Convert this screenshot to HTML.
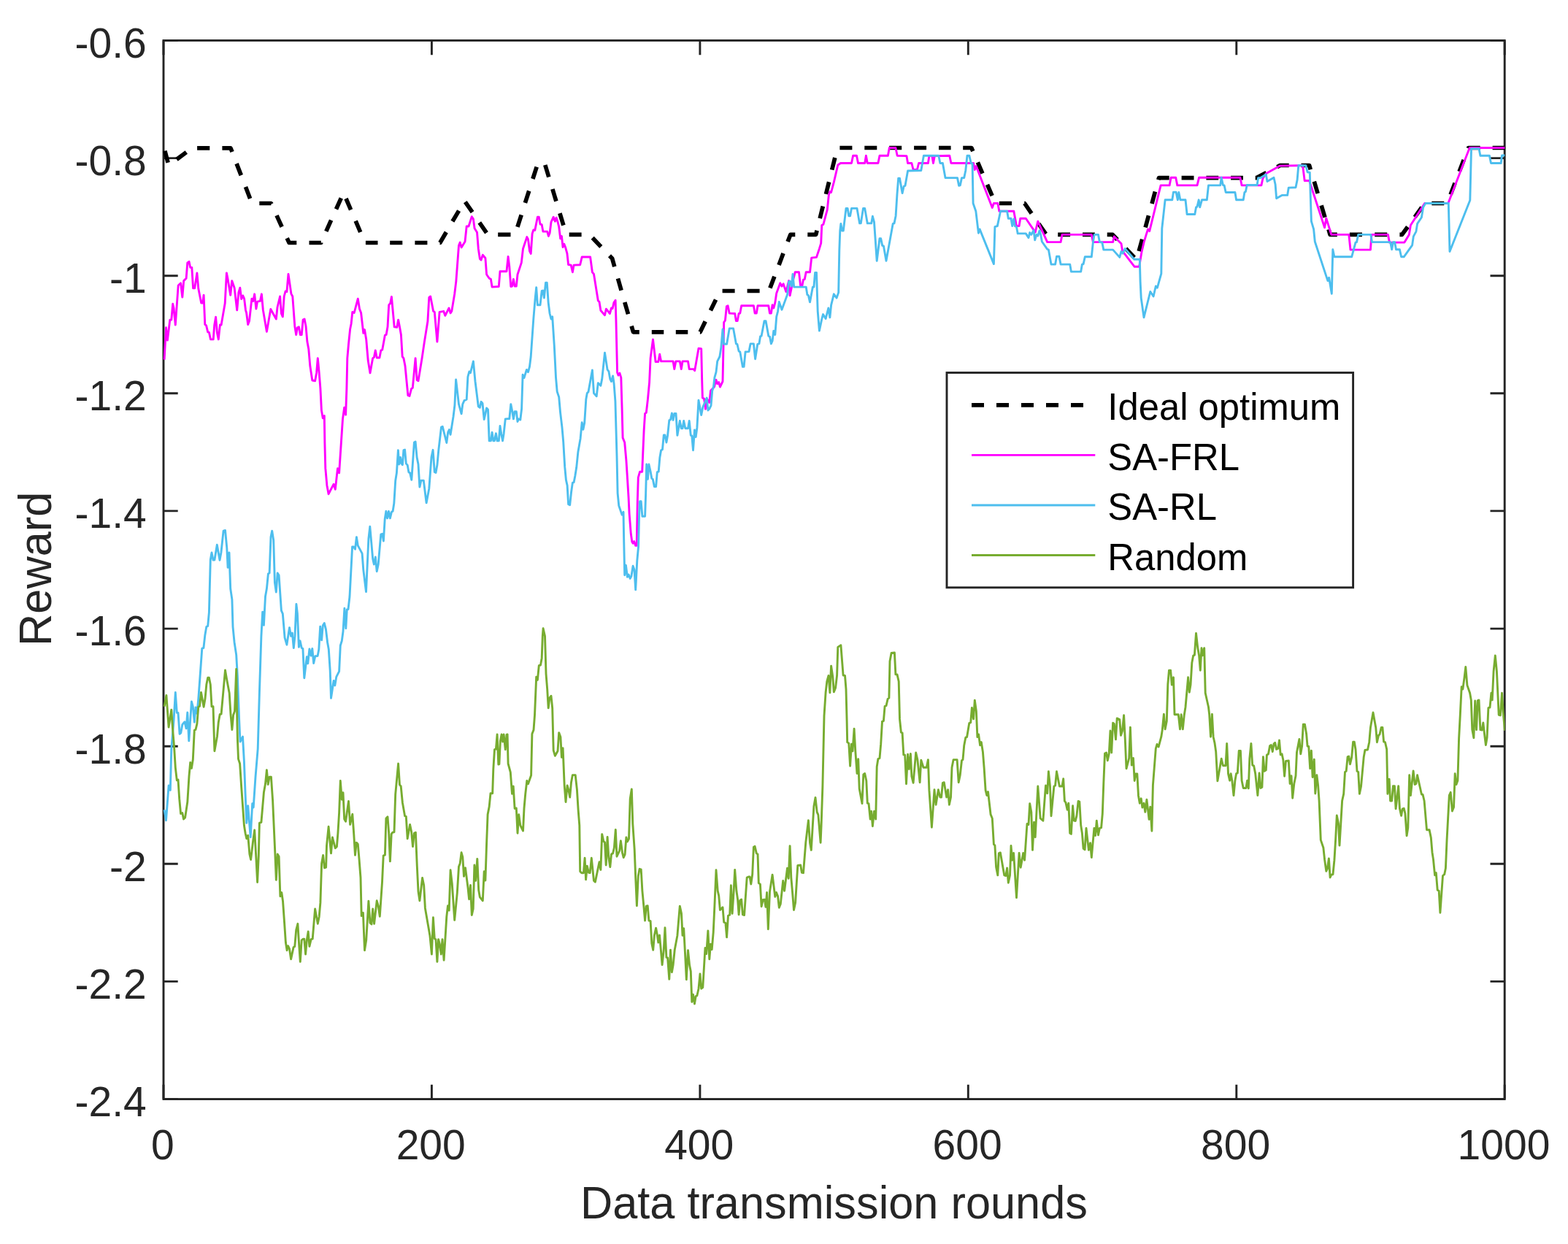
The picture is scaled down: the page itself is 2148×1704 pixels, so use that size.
<!DOCTYPE html>
<html lang="en"><head><meta charset="utf-8"><title>Reward vs data transmission rounds</title>
<style>
html,body{margin:0;padding:0;background:#fff;}
body{width:2148px;height:1704px;overflow:hidden;}
svg{display:block;}
text{font-family:"Liberation Sans",sans-serif;}
.tk{font-size:57.0px;fill:#262626;}
.lb{font-size:61.3px;fill:#262626;}
.lg{font-size:50.8px;fill:#000;}
.ax{stroke:#242424;stroke-width:2.9;fill:none;}
.ln{fill:none;stroke-width:2.9;stroke-linejoin:round;stroke-linecap:butt;}
</style></head><body>
<svg width="2148" height="1704" viewBox="0 0 2148 1704">
<rect x="0" y="0" width="2148" height="1704" fill="#ffffff"/>

<rect class="ax" x="224.0" y="55.45" width="1837.2" height="1450.1"/>
<path class="ax" d="M224.0 1505.55v-19.7M224.0 55.45v19.7M591.4 1505.55v-19.7M591.4 55.45v19.7M958.9 1505.55v-19.7M958.9 55.45v19.7M1326.3 1505.55v-19.7M1326.3 55.45v19.7M1693.8 1505.55v-19.7M1693.8 55.45v19.7M2061.2 1505.55v-19.7M2061.2 55.45v19.7M224.0 55.5h19.7M2061.2 55.5h-19.7M224.0 216.6h19.7M2061.2 216.6h-19.7M224.0 377.7h19.7M2061.2 377.7h-19.7M224.0 538.8h19.7M2061.2 538.8h-19.7M224.0 699.9h19.7M2061.2 699.9h-19.7M224.0 861.1h19.7M2061.2 861.1h-19.7M224.0 1022.2h19.7M2061.2 1022.2h-19.7M224.0 1183.3h19.7M2061.2 1183.3h-19.7M224.0 1344.4h19.7M2061.2 1344.4h-19.7M224.0 1505.5h19.7M2061.2 1505.5h-19.7"/>
<defs><clipPath id="pc"><rect x="222.5" y="55.45" width="1839.1" height="1450.1"/></clipPath></defs>
<g clip-path="url(#pc)">
<path fill="none" stroke="#000" stroke-width="5.7" stroke-linejoin="round" stroke-linecap="butt" d="M225.9 206.6L230.1 222.7M242.0 218.4L255.3 208.5M270.1 202.9L287.3 202.9M304.4 202.9L316.0 202.9L318.0 208.1M324.1 224.1L330.3 240.1M336.5 256.1L342.6 272.1M355.3 278.5L371.4 278.5L371.9 279.5M379.0 295.1L386.1 310.7M393.2 326.3L396.1 332.5L406.3 332.5M423.5 332.5L439.8 332.5L439.9 332.1M446.8 316.9L453.6 301.7M460.5 286.5L467.3 271.3M474.0 272.0L480.6 287.3M487.2 302.6L493.7 318.0M500.9 332.5L517.5 332.5M534.2 332.5L551.3 332.5M568.4 332.5L585.4 332.5M602.5 332.5L602.8 332.5L611.3 318.0M619.9 303.3L628.6 288.6M637.3 276.7L647.1 290.7M656.8 304.8L666.5 318.8M682.2 321.4L699.5 321.4M708.9 310.8L714.2 294.3M719.4 277.9L724.7 261.5M729.9 245.0L735.2 228.6M746.8 226.0L751.8 242.5M756.9 259.0L761.9 275.6M766.9 292.1L771.9 308.6M779.7 321.4L796.6 321.4M811.7 325.7L823.3 338.0M835.0 350.2L838.6 353.9L841.8 365.2M846.5 381.5L851.1 397.8M855.8 414.0L860.5 430.3M865.1 446.6L867.5 454.8L875.8 454.8M892.8 454.8L909.3 454.8M925.8 454.8L942.3 454.8M958.9 454.8L959.2 454.8L966.2 440.2M973.4 425.3L980.6 410.5M989.6 398.5L1006.6 398.5M1023.6 398.5L1040.6 398.5M1054.9 394.6L1060.9 378.7M1067.0 362.9L1073.0 347.0M1079.1 331.1L1082.8 321.4L1089.3 321.4M1106.3 321.4L1117.7 321.4L1119.1 315.8M1123.2 299.1L1127.3 282.5M1131.5 265.9L1135.6 249.2M1139.7 232.6L1143.8 216.0M1150.4 202.5L1167.4 202.5M1184.3 202.5L1201.3 202.5M1218.2 202.5L1235.2 202.5M1252.1 202.5L1269.1 202.5M1286.0 202.5L1302.6 202.5M1319.2 202.5L1330.8 202.5L1332.8 207.1M1339.4 222.4L1345.9 237.7M1352.5 252.9L1359.1 268.2M1368.9 278.5L1386.0 278.5M1403.2 278.5L1403.6 278.5L1413.1 292.3M1422.8 306.4L1432.6 320.5M1449.2 321.4L1466.1 321.4M1483.0 321.4L1499.8 321.4M1516.7 321.4L1524.2 321.4L1530.7 328.2M1542.3 340.5L1553.9 352.8M1560.2 344.1L1564.7 327.8M1569.1 311.5L1573.5 295.2M1578.0 278.9L1582.4 262.6M1586.8 246.3L1587.6 243.6L1601.7 243.6M1618.6 243.6L1635.5 243.6M1652.4 243.6L1669.2 243.6M1686.1 243.6L1702.9 243.6M1719.7 243.6L1721.4 243.6L1734.7 236.6M1749.5 228.7L1753.6 226.5L1765.7 226.5M1782.5 226.5L1793.6 226.5L1795.3 232.2M1800.3 248.6L1805.2 265.0M1810.1 281.4L1815.0 297.8M1820.0 314.2L1822.1 321.4L1831.8 321.4M1848.9 321.4L1866.0 321.4M1883.2 321.4L1900.3 321.4M1917.4 321.4L1920.6 321.4L1928.4 310.7M1938.1 297.3L1947.7 284.0M1961.3 278.5L1978.3 278.5M1987.1 266.6L1993.1 250.8M1999.1 234.9L2005.2 219.0M2011.2 203.2L2011.5 202.5L2027.7 202.5M2044.6 202.5L2061.4 202.5"/>
<polyline class="ln" stroke="#ff00ff" points="225.1,492.7 227.5,448.8 229.4,466.0 232.8,438.1 234.8,438.1 236.7,416.3 238.0,422.0 240.3,445.0 244.2,391.0 247.6,387.8 249.8,407.1 251.7,384.6 255.1,381.3 256.8,359.9 259.0,358.4 260.7,366.4 262.8,366.4 264.6,394.8 266.7,394.8 269.9,373.9 271.8,395.3 275.7,415.0 277.6,415.0 279.1,404.3 280.8,444.5 282.5,445.6 284.7,454.8 286.4,455.2 288.5,464.9 292.2,464.9 293.7,445.6 295.6,434.3 297.5,456.3 299.3,464.9 301.4,445.0 303.1,445.0 308.2,415.6 310.4,373.9 311.9,381.3 315.7,404.3 317.7,384.6 321.1,394.2 324.7,424.8 326.9,400.6 328.8,394.2 330.7,409.6 332.7,404.9 334.6,409.2 336.5,424.8 337.6,428.5 339.7,444.5 341.5,439.8 344.9,409.2 346.8,412.4 348.7,402.8 350.9,423.1 352.6,413.1 356.4,412.4 358.4,402.8 360.3,424.2 365.4,454.2 370.8,423.5 378.3,437.0 380.0,421.0 383.6,406.0 385.4,429.5 387.3,433.8 389.2,406.0 391.1,398.9 392.9,399.6 395.0,375.4 398.9,402.3 400.8,406.0 403.8,446.7 405.7,458.5 407.4,448.8 409.4,447.8 411.3,458.5 413.2,458.5 415.1,438.1 417.1,437.0 419.0,446.7 420.9,468.1 422.8,478.2 424.8,501.3 427.8,521.0 431.6,521.7 433.6,510.9 435.3,490.6 437.2,510.9 438.9,532.1 440.4,562.1 442.3,572.8 444.3,569.6 444.9,607.1 445.8,641.4 447.9,664.9 450.1,676.7 457.1,663.2 459.3,670.3 462.5,641.8 464.6,647.8 469.5,573.9 471.7,558.3 473.6,568.1 474.9,532.1 475.8,490.6 477.5,471.3 479.6,451.0 481.1,443.5 482.8,427.4 485.2,428.5 490.3,409.2 492.5,423.1 494.6,428.5 497.8,456.3 499.5,451.6 501.7,464.9 504.2,493.8 507.0,510.9 510.7,490.6 512.4,489.5 514.3,479.9 516.2,490.0 519.9,490.0 521.8,479.9 523.7,479.2 527.4,459.1 529.1,458.5 531.0,447.8 532.7,417.8 534.7,415.6 536.4,406.4 540.2,447.8 543.9,448.2 545.6,438.1 547.5,447.8 549.4,458.5 551.2,488.5 552.9,490.6 555.0,501.3 558.9,541.6 561.0,542.4 563.6,532.4 565.3,531.3 569.1,490.6 571.1,520.6 573.0,521.7 578.1,490.6 581.4,468.1 585.9,440.3 587.8,407.5 589.7,406.0 593.6,426.3 595.3,427.4 598.9,468.1 602.1,427.4 607.7,426.3 609.8,432.3 615.0,422.0 617.1,428.9 618.8,426.3 622.7,402.8 624.8,385.6 628.5,336.4 630.2,332.1 632.1,338.9 637.0,331.0 639.2,310.0 642.0,310.0 646.3,296.7 648.4,300.0 650.1,312.8 653.5,318.2 655.3,340.7 657.4,354.6 659.1,356.1 661.3,349.2 664.9,353.5 666.6,376.0 670.2,381.3 672.4,382.4 674.1,393.1 683.3,392.5 685.0,371.7 694.0,371.7 696.1,351.4 697.8,365.3 699.8,392.5 701.5,392.1 703.4,382.4 705.1,392.1 707.3,392.1 709.0,376.0 714.3,359.9 716.5,340.7 721.8,324.6 723.5,327.8 725.5,343.9 727.2,347.5 729.1,320.3 730.8,314.9 732.8,315.4 736.4,297.2 738.3,297.2 740.0,307.0 742.2,307.7 743.9,317.1 749.7,317.1 751.4,323.5 753.1,319.2 755.0,304.2 758.2,297.2 760.4,303.2 762.1,298.2 764.0,303.8 765.7,310.7 767.7,326.7 769.4,323.5 771.1,338.5 772.8,334.2 774.5,338.5 776.9,347.1 778.6,362.5 782.2,363.1 784.4,372.8 786.1,363.1 794.7,362.7 797.2,352.0 808.6,352.0 811.4,372.8 813.5,375.4 819.3,411.8 821.0,413.5 822.9,425.3 828.5,431.7 830.4,423.1 835.4,429.5 837.5,422.0 839.2,422.5 840.9,414.6 843.1,411.3 843.9,437.0 845.6,510.3 847.1,514.1 848.9,511.1 850.8,517.1 852.1,560.0 853.1,599.6 855.7,606.0 857.9,630.7 859.4,654.2 861.1,682.1 862.1,703.5 864.3,731.3 865.8,742.0 867.1,744.2 868.6,741.6 870.7,747.4 872.2,747.4 873.3,686.4 874.3,654.2 876.5,646.3 879.7,646.3 880.8,620.0 882.1,590.0 883.6,566.4 885.3,565.3 887.4,547.1 889.6,523.6 891.1,490.6 894.5,464.9 898.1,495.5 901.8,495.5 903.7,485.2 905.6,494.9 922.1,494.9 923.8,505.6 925.8,494.9 931.3,494.9 933.3,505.6 935.0,494.9 942.5,494.9 944.2,505.6 950.0,505.6 951.7,507.7 957.0,477.3 960.7,477.7 961.7,521.4 962.4,545.0 964.5,546.1 966.5,560.4 968.2,546.1 971.8,551.4 973.5,535.3 978.4,530.0 981.0,520.3 982.7,525.7 984.7,523.6 986.4,530.0 990.0,522.5 991.7,441.3 993.4,439.2 995.4,419.5 997.1,418.8 999.2,429.1 1006.7,429.5 1008.4,439.6 1010.2,439.6 1012.1,429.5 1013.8,429.1 1015.7,418.8 1032.4,418.8 1034.1,429.1 1036.3,429.1 1038.0,418.8 1052.8,418.8 1054.5,429.1 1056.4,429.1 1058.1,417.8 1059.8,422.0 1061.8,414.6 1063.7,401.7 1068.8,387.8 1071.0,392.1 1073.1,388.8 1076.8,399.6 1080.6,384.6 1082.1,404.9 1084.3,394.2 1086.0,385.6 1089.2,372.8 1094.5,372.8 1096.7,392.1 1098.8,392.1 1100.5,383.1 1102.3,382.4 1104.2,372.8 1109.5,372.8 1111.7,353.1 1118.5,352.4 1122.4,340.7 1124.7,333.1 1125.8,308.5 1127.9,307.4 1133.3,287.1 1135.4,266.7 1136.9,262.5 1138.6,263.5 1142.3,249.6 1147.8,226.0 1151.5,223.5 1166.5,223.5 1168.6,213.2 1173.5,213.2 1175.5,223.5 1184.7,223.5 1186.4,213.2 1188.3,223.5 1202.9,223.5 1205.0,213.2 1216.4,213.2 1218.3,202.5 1226.9,202.5 1229.2,213.2 1241.9,213.6 1243.6,223.5 1248.9,223.5 1251.1,232.5 1256.4,232.5 1258.6,223.5 1271.4,223.5 1272.9,213.6 1276.8,213.6 1278.5,223.5 1280.4,213.6 1300.8,213.2 1302.9,223.5 1333.6,223.5 1335.3,232.5 1337.2,227.5 1359.3,284.5 1361.4,278.5 1366.8,278.5 1368.9,289.2 1388.8,289.2 1392.5,309.6 1396.1,309.6 1397.8,299.3 1405.3,299.3 1418.2,318.1 1421.8,303.2 1434.7,331.6 1453.1,331.6 1455.0,321.4 1495.3,321.4 1497.4,331.6 1524.6,331.6 1526.3,323.9 1536.0,333.8 1537.7,343.9 1554.2,365.3 1560.6,365.3 1563.8,346.0 1567.0,332.1 1570.2,321.4 1572.6,313.9 1574.7,316.6 1590.1,253.9 1602.1,253.9 1604.1,243.2 1610.7,243.2 1612.8,253.9 1640.0,253.9 1642.6,243.2 1698.9,243.2 1701.1,253.9 1727.9,253.9 1730.0,244.2 1734.3,237.8 1753.6,227.1 1784.6,226.7 1787.2,247.5 1793.6,247.5 1814.6,311.7 1816.8,298.9 1823.8,321.4 1847.8,321.4 1850.0,342.1 1877.4,342.1 1878.9,321.4 1901.4,321.4 1903.5,332.1 1923.9,332.1 1930.3,321.4 1932.4,308.5 1951.7,278.5 1983.8,278.5 2013.2,202.5 2061.4,202.5"/>
<polyline class="ln" stroke="#4dbeee" points="225.1,1109.2 227.5,1123.7 229.4,1098.5 231.1,1076.0 233.3,1082.4 234.8,1025.6 238.0,987.1 240.3,948.5 242.3,976.4 244.0,976.4 246.1,1005.3 247.8,1003.8 249.8,992.4 253.0,988.8 255.1,997.8 256.8,975.9 258.8,1014.9 262.4,960.9 264.3,967.8 266.3,989.2 268.0,968.9 269.9,977.4 271.8,957.1 274.0,927.1 276.8,888.1 278.9,887.5 280.8,870.3 282.8,858.6 284.7,857.5 286.4,838.8 288.3,766.7 290.0,757.0 292.0,767.1 293.9,767.1 297.3,746.3 301.0,767.3 302.9,757.0 306.1,727.1 308.5,726.4 310.8,750.6 312.1,777.4 314.0,757.0 315.7,806.3 317.9,821.3 319.0,858.6 321.1,880.0 323.7,897.1 325.4,927.1 327.5,982.8 329.0,1016.0 332.5,1009.1 334.4,1042.8 336.1,1087.8 337.8,1127.4 339.7,1103.8 343.2,1146.7 345.7,1100.6 347.2,1106.0 350.0,1064.2 353.2,1025.6 355.4,948.5 357.9,871.4 359.7,838.2 361.4,856.4 363.5,817.0 365.4,806.3 367.4,786.0 369.1,784.9 371.0,735.6 372.7,727.1 374.7,739.9 376.4,797.7 378.3,811.0 380.2,784.9 382.1,788.1 385.4,836.3 387.3,840.6 390.1,873.6 392.9,883.2 396.5,859.6 398.6,871.4 400.4,867.1 402.3,887.5 404.0,871.4 405.9,827.5 407.4,840.3 409.4,886.4 411.1,877.8 413.2,887.5 414.9,888.5 416.8,928.8 420.3,899.7 421.8,908.9 423.9,889.0 426.1,898.2 427.8,888.5 429.7,908.5 431.8,898.8 435.1,898.6 436.8,889.6 438.7,858.1 440.6,876.8 442.3,856.8 444.3,853.6 446.4,861.8 448.6,880.0 450.3,889.6 452.2,918.5 453.5,956.4 457.1,932.5 458.8,938.9 460.8,927.1 464.6,919.6 466.3,884.3 468.3,877.8 470.0,865.0 471.9,833.3 473.8,860.7 475.3,835.0 477.0,834.6 479.0,817.0 482.6,748.9 484.5,748.9 486.5,752.3 488.4,735.6 490.3,747.4 496.1,758.1 497.8,780.6 501.5,810.6 504.9,737.8 506.8,721.3 510.7,765.6 512.4,773.1 514.3,763.0 516.2,782.7 518.2,773.1 521.8,731.8 523.7,731.3 525.4,741.0 527.2,711.0 528.9,700.3 530.6,709.9 532.5,700.3 534.4,709.9 536.4,701.3 538.1,700.3 539.8,689.6 541.7,658.5 543.4,647.8 545.4,616.7 546.7,636.0 548.6,626.4 549.9,634.9 551.4,636.7 552.9,616.7 554.6,616.1 556.3,634.9 558.2,637.1 559.9,646.7 561.6,647.8 563.8,657.4 567.4,606.0 569.1,605.0 571.1,626.4 573.0,636.0 574.9,667.1 576.9,658.1 580.3,658.1 584.1,688.9 587.8,669.2 591.0,626.4 593.1,616.3 595.3,646.7 597.0,647.4 598.9,637.1 600.8,616.7 604.5,585.0 606.2,584.2 611.8,606.5 613.7,592.1 615.4,588.5 617.1,595.3 621.0,570.7 622.9,555.3 624.6,519.9 628.5,553.6 632.1,566.8 633.8,553.6 636.0,548.6 639.2,547.1 640.9,516.1 642.8,509.0 644.5,510.7 648.4,494.9 651.0,522.5 655.3,556.8 657.4,558.3 659.1,550.3 661.0,552.5 663.2,574.5 666.6,558.9 668.5,561.0 670.2,603.9 672.4,603.9 674.1,592.1 675.8,603.9 677.3,603.9 679.4,593.6 681.1,603.9 683.3,603.9 685.0,583.5 686.7,594.2 688.6,603.9 690.1,594.2 692.3,573.9 697.8,573.5 699.8,553.6 701.7,563.2 703.4,573.9 705.1,563.6 707.3,563.6 709.0,577.5 710.7,573.9 712.8,575.0 714.6,560.0 716.1,513.3 718.0,517.6 721.4,506.4 723.5,509.6 725.5,502.1 727.2,488.5 730.8,437.0 733.0,410.3 734.7,393.6 736.4,417.8 740.0,417.8 742.2,398.5 743.7,398.1 745.4,408.1 747.5,387.3 749.3,387.3 751.2,414.6 753.1,429.5 755.0,437.0 756.7,433.8 759.3,473.5 761.5,517.1 763.2,536.4 765.7,543.9 767.5,564.3 770.0,585.7 771.7,605.0 773.7,639.2 775.4,657.4 777.1,664.9 778.6,690.6 780.7,691.7 782.5,674.6 784.4,661.1 786.1,660.7 787.8,652.1 789.7,640.3 791.9,618.9 795.1,600.7 797.2,578.8 798.9,588.3 800.7,579.3 802.8,547.1 804.3,538.6 806.0,536.8 811.4,506.9 813.5,538.6 817.2,542.8 819.3,524.6 822.9,528.3 824.7,519.3 828.5,483.1 832.1,506.4 833.9,508.6 835.8,519.3 837.5,522.5 839.6,515.0 841.1,525.7 842.9,549.3 845.0,624.2 846.1,675.6 847.8,692.8 852.1,705.2 854.0,701.3 854.6,735.6 855.7,787.7 857.4,774.2 859.4,790.2 861.1,787.0 863.2,792.4 864.9,789.2 867.1,775.2 869.0,780.6 870.7,807.8 872.8,767.8 874.6,748.5 875.6,705.6 876.5,686.8 878.2,686.8 879.9,707.3 883.6,707.3 884.6,677.8 885.7,636.0 887.4,656.4 888.9,636.0 891.1,645.7 892.8,655.3 894.3,656.4 896.4,666.6 898.6,666.6 900.3,646.7 902.2,646.1 903.9,626.4 905.6,616.7 907.5,615.7 909.3,596.0 911.0,596.0 912.9,606.0 914.6,596.4 916.8,575.6 918.5,575.0 920.4,566.0 922.1,575.4 923.8,566.4 926.0,566.4 927.9,596.4 931.3,576.5 933.3,586.8 935.0,586.8 936.7,576.5 938.8,586.8 942.5,586.8 944.2,576.5 946.3,596.4 947.8,596.8 949.5,616.7 951.5,588.9 953.2,598.5 954.9,585.7 957.0,548.2 960.7,568.5 962.8,557.8 968.2,545.0 969.9,562.1 971.8,560.0 974.0,555.7 975.7,535.3 977.4,530.0 978.9,517.1 981.0,509.6 982.7,494.9 985.9,488.5 987.9,475.6 990.0,451.0 991.7,471.3 995.6,471.3 999.2,449.9 1004.6,449.9 1008.4,470.9 1009.9,471.3 1012.1,481.0 1013.8,482.0 1017.4,502.4 1019.1,502.4 1021.1,482.0 1026.0,481.6 1028.1,470.9 1032.4,470.9 1034.6,491.7 1037.8,471.3 1039.9,470.9 1041.6,460.6 1043.1,460.2 1047.0,439.8 1049.1,439.8 1052.8,460.2 1054.5,461.0 1056.4,470.9 1058.1,467.0 1059.8,453.1 1061.8,458.5 1063.7,433.8 1065.6,426.3 1067.3,413.5 1071.0,424.2 1078.5,403.8 1080.6,385.6 1082.1,385.2 1084.3,392.1 1086.0,375.4 1087.7,393.1 1104.2,393.1 1105.9,403.8 1107.4,404.5 1109.5,413.9 1113.4,393.1 1114.9,393.1 1116.6,373.4 1118.5,373.4 1120.2,426.3 1122.4,453.1 1125.8,437.0 1127.5,430.6 1131.1,436.6 1134.8,422.0 1136.9,434.9 1138.6,417.8 1142.3,402.8 1146.1,408.1 1148.7,400.6 1149.8,342.8 1150.8,316.0 1151.9,306.4 1153.6,316.0 1155.3,316.0 1159.0,285.4 1161.1,285.4 1162.8,295.7 1164.6,295.7 1166.5,285.4 1174.0,285.4 1177.6,305.9 1179.3,305.9 1182.5,285.4 1184.7,285.4 1188.3,305.9 1193.7,305.9 1195.4,296.3 1197.5,304.2 1201.2,357.3 1205.0,326.7 1206.7,326.7 1208.7,336.4 1210.4,336.8 1214.0,357.3 1223.2,306.4 1225.0,305.9 1227.1,295.7 1229.0,265.7 1230.7,244.2 1232.5,244.2 1236.1,264.6 1238.2,255.0 1240.0,254.3 1243.6,234.0 1261.8,233.5 1265.4,213.2 1285.8,213.2 1287.9,223.5 1291.4,223.5 1295.0,243.6 1311.5,243.6 1313.6,254.3 1315.3,253.9 1317.5,243.6 1320.7,243.6 1322.8,233.5 1325.0,213.2 1327.8,213.2 1330.3,223.9 1332.1,223.9 1333.1,278.5 1336.8,289.2 1340.4,319.2 1342.1,313.9 1361.4,361.6 1362.9,310.7 1366.3,309.6 1370.6,289.2 1379.6,289.2 1381.3,299.3 1385.0,299.3 1386.7,309.6 1388.8,299.9 1390.3,309.6 1392.5,310.7 1394.2,319.9 1405.3,319.9 1409.0,325.6 1410.7,318.6 1412.8,321.4 1416.0,315.4 1417.7,328.9 1419.9,321.4 1421.8,323.1 1424.0,316.0 1425.7,321.4 1427.4,331.0 1434.7,341.3 1436.4,342.1 1440.0,362.1 1445.6,362.1 1447.5,351.3 1450.9,351.3 1453.1,362.1 1465.7,362.1 1467.4,372.1 1480.7,372.1 1482.4,362.1 1484.1,361.6 1486.3,351.8 1495.3,351.8 1497.4,331.6 1499.1,321.4 1504.5,321.4 1506.4,331.6 1509.8,332.1 1511.8,342.1 1524.6,342.1 1533.8,352.4 1536.0,344.5 1538.1,347.1 1541.3,340.6 1553.8,355.2 1561.3,355.2 1562.1,385.6 1563.2,408.1 1567.0,434.9 1575.8,399.5 1580.1,406.0 1583.3,392.0 1585.4,394.2 1590.8,374.9 1591.8,312.8 1596.1,273.8 1605.8,273.8 1607.5,263.1 1611.1,263.1 1613.3,273.8 1614.8,263.5 1616.9,273.8 1624.0,273.8 1626.1,293.5 1636.8,293.5 1638.5,283.9 1640.0,283.2 1642.2,273.8 1643.7,283.9 1646.5,273.8 1653.3,273.8 1655.5,253.9 1671.7,253.9 1673.2,243.2 1675.4,253.5 1677.1,253.9 1679.2,263.5 1691.9,263.5 1693.6,273.8 1703.2,273.8 1704.9,263.5 1706.4,262.5 1708.2,253.5 1722.1,253.5 1723.6,243.6 1726.8,243.6 1734.3,238.9 1736.0,248.5 1745.0,243.2 1747.1,252.8 1748.6,271.7 1756.1,267.4 1763.6,267.4 1765.3,257.1 1775.0,256.7 1777.1,246.4 1778.8,226.7 1788.9,226.7 1791.1,235.7 1794.3,236.3 1795.3,270.0 1796.4,303.2 1799.6,313.9 1801.3,331.0 1818.9,384.6 1820.6,380.3 1824.3,402.3 1825.8,341.7 1827.9,351.8 1851.7,351.8 1857.0,332.1 1858.5,331.6 1860.7,321.4 1877.8,321.4 1879.5,331.6 1904.6,331.6 1906.7,341.7 1908.4,331.6 1910.6,331.6 1912.5,341.7 1917.4,341.7 1919.6,351.8 1923.2,351.8 1934.6,335.9 1936.3,323.9 1939.9,317.1 1941.6,306.4 1947.4,297.8 1949.6,283.9 1952.8,278.5 1984.3,278.5 1986.0,344.5 2013.8,274.2 2015.5,203.6 2026.0,203.6 2027.9,213.2 2040.4,213.2 2042.5,223.5 2056.2,223.5 2057.5,213.0 2061.4,212.8"/>
<polyline class="ln" stroke="#77ac30" points="225.1,967.8 227.9,952.4 231.1,996.1 234.8,972.1 236.5,997.8 238.6,1023.5 240.3,1051.3 242.3,1068.9 244.0,1068.0 245.7,1094.2 247.6,1114.5 249.8,1113.5 251.5,1122.0 253.6,1119.9 256.8,1098.5 259.0,1063.1 260.7,1044.5 262.4,1052.4 264.3,1040.6 266.3,1000.4 268.0,999.5 269.9,991.4 271.8,968.2 273.5,967.4 275.5,948.5 279.1,968.2 281.0,957.1 282.8,937.8 284.7,928.2 286.4,928.2 288.3,937.8 290.0,967.8 292.0,967.8 293.9,1028.8 297.5,1008.5 299.3,989.2 301.2,978.5 303.1,978.1 305.0,957.1 308.5,917.9 310.4,929.2 314.2,949.6 316.0,978.5 317.9,999.5 319.6,979.6 321.5,974.2 323.7,916.4 324.5,969.9 325.4,1012.8 326.5,1039.6 328.6,1046.0 330.7,1078.1 332.9,1109.2 334.4,1130.6 336.1,1141.3 337.8,1148.8 339.7,1144.3 341.9,1170.0 343.6,1177.5 346.8,1150.7 348.7,1137.0 350.7,1172.1 352.6,1208.5 354.3,1172.1 355.4,1127.4 357.9,1126.3 361.4,1085.6 363.5,1073.8 365.4,1054.6 367.2,1074.5 369.1,1064.2 371.4,1064.2 373.6,1096.3 376.8,1167.8 378.3,1205.3 380.2,1170.0 382.1,1173.2 383.9,1227.8 385.8,1222.5 387.5,1234.2 389.6,1264.2 391.4,1291.0 393.1,1301.7 394.6,1295.7 396.5,1299.6 398.6,1313.9 402.1,1297.4 403.8,1296.4 405.7,1273.9 407.9,1265.3 409.4,1289.9 411.3,1317.4 413.2,1287.8 415.3,1286.1 416.8,1286.1 418.6,1307.1 420.3,1287.8 422.2,1276.0 423.9,1296.4 426.1,1286.7 428.2,1286.1 431.6,1245.0 435.3,1265.3 437.2,1255.7 438.9,1236.4 440.6,1182.8 442.6,1171.5 444.5,1188.8 446.6,1188.2 447.5,1158.4 450.1,1132.3 453.5,1168.9 455.4,1146.9 459.3,1161.8 461.4,1159.7 462.9,1141.3 464.6,1113.5 466.3,1069.5 468.3,1095.2 470.0,1085.6 471.7,1122.0 473.6,1125.2 475.8,1109.2 477.5,1097.4 479.6,1129.5 482.8,1115.2 484.8,1143.4 486.5,1171.3 488.2,1154.1 490.3,1156.3 492.0,1176.4 494.0,1202.1 495.2,1254.6 497.4,1250.3 499.5,1301.7 501.7,1287.8 504.9,1234.2 507.0,1264.2 509.0,1266.0 510.7,1245.0 512.6,1265.3 516.2,1233.8 518.2,1240.7 520.3,1255.2 523.5,1208.5 525.2,1172.1 527.4,1171.1 528.9,1121.0 531.0,1118.8 532.7,1141.3 534.4,1179.9 536.2,1142.4 537.9,1140.2 540.0,1139.8 541.7,1087.8 545.6,1046.0 547.5,1074.9 549.2,1077.0 551.4,1099.5 554.6,1117.7 556.3,1118.4 558.2,1148.8 561.6,1129.5 563.6,1139.2 565.5,1159.5 567.4,1141.3 569.4,1140.2 571.3,1186.1 573.0,1221.0 574.9,1233.8 578.6,1202.5 580.7,1212.8 582.4,1243.9 585.9,1264.2 588.9,1281.4 591.4,1307.1 593.4,1256.7 595.3,1285.7 597.0,1286.7 598.9,1317.4 600.6,1286.7 602.3,1293.2 604.3,1307.1 606.0,1286.7 608.1,1315.2 609.8,1287.8 611.8,1255.7 613.5,1240.7 615.2,1247.1 617.1,1191.8 619.3,1210.7 622.7,1260.4 626.3,1223.1 628.5,1187.1 630.2,1182.8 632.1,1167.8 633.8,1173.8 635.5,1200.4 637.5,1188.8 640.9,1215.0 642.6,1231.7 644.5,1212.4 646.3,1253.5 648.2,1245.0 649.9,1185.0 651.6,1206.4 653.8,1176.4 655.7,1219.3 657.4,1228.9 661.3,1233.8 663.2,1193.6 664.9,1206.0 666.6,1155.0 668.1,1115.6 670.2,1104.9 672.0,1086.7 674.7,1086.7 675.8,1053.5 677.5,1026.7 679.4,1026.1 681.1,1005.9 682.8,1047.1 683.9,1046.6 685.4,1014.9 687.1,1005.9 688.6,1016.0 690.1,1005.9 692.3,1026.7 694.0,1006.4 695.1,1005.9 696.1,1046.0 699.3,1057.8 701.5,1087.3 703.2,1077.0 705.1,1107.5 707.3,1107.0 709.0,1141.3 710.7,1115.6 712.8,1130.6 716.5,1138.1 718.0,1107.0 719.7,1087.8 721.8,1069.5 723.5,1073.8 727.6,1062.0 728.9,1005.3 731.0,999.9 732.5,979.6 734.7,927.1 736.4,931.4 738.3,911.7 740.5,911.0 742.2,901.4 743.3,871.4 744.1,860.7 746.5,871.4 748.0,922.8 749.7,944.2 751.2,969.9 752.9,956.0 755.0,953.2 756.7,969.9 758.2,1027.8 760.4,1035.3 764.0,1028.8 765.7,1003.6 767.9,1009.6 769.4,1037.4 771.1,1024.6 773.2,1076.0 775.0,1098.5 777.1,1076.0 779.0,1082.4 780.7,1092.0 782.5,1071.7 784.4,1061.6 788.2,1061.6 790.4,1081.3 792.1,1109.2 793.8,1130.6 794.7,1193.6 796.8,1195.7 799.4,1195.7 801.1,1175.3 802.6,1204.9 804.3,1186.1 806.4,1195.3 808.2,1195.7 810.3,1175.3 813.5,1206.4 815.4,1208.1 821.0,1180.7 822.9,1191.4 824.7,1142.6 826.8,1152.4 828.5,1153.9 830.2,1185.0 832.1,1146.4 833.9,1175.3 835.8,1187.6 837.5,1170.0 839.6,1168.9 841.4,1161.0 843.3,1136.4 845.0,1173.2 848.6,1165.3 850.4,1151.8 852.5,1167.8 854.2,1174.7 856.1,1170.4 857.9,1146.9 859.4,1152.9 861.5,1149.0 863.2,1094.2 865.3,1080.9 866.8,1128.5 869.2,1163.6 870.7,1202.1 872.4,1240.7 874.3,1200.0 876.1,1190.3 878.2,1190.8 879.9,1220.3 881.8,1240.7 883.6,1261.0 885.3,1241.1 887.2,1240.7 888.9,1261.0 891.1,1261.7 892.8,1292.1 894.7,1301.3 896.4,1281.4 898.6,1271.1 900.3,1280.3 901.8,1291.0 903.5,1280.9 905.4,1301.7 907.1,1321.6 909.3,1301.1 911.0,1270.7 912.9,1311.4 914.6,1311.8 916.8,1341.3 918.5,1301.1 920.4,1331.7 922.1,1322.1 924.3,1300.7 927.9,1281.4 931.3,1241.1 933.5,1251.4 935.0,1281.4 936.7,1271.7 938.8,1311.4 940.3,1341.8 942.5,1301.7 944.6,1322.1 946.3,1330.6 947.8,1372.4 949.5,1362.3 951.5,1375.0 953.2,1364.5 954.9,1363.8 957.0,1354.2 959.0,1333.9 960.7,1354.2 962.8,1352.5 966.0,1298.5 967.7,1306.6 969.9,1274.9 971.8,1313.9 973.5,1293.2 975.2,1300.7 977.2,1277.1 978.9,1240.7 981.0,1191.8 983.2,1220.3 984.7,1226.8 986.4,1246.5 990.0,1242.8 991.7,1263.2 993.9,1264.2 995.6,1283.9 997.5,1254.2 999.7,1253.1 1001.4,1212.8 1003.1,1251.4 1005.0,1223.5 1006.7,1191.4 1008.9,1220.3 1010.6,1232.1 1012.1,1252.9 1013.8,1233.2 1015.7,1232.1 1017.4,1252.9 1019.6,1253.5 1023.2,1202.1 1025.4,1201.0 1027.1,1201.0 1028.8,1211.1 1030.7,1197.8 1032.4,1160.3 1034.1,1159.3 1036.3,1168.9 1038.0,1170.0 1039.3,1209.6 1041.4,1211.1 1043.1,1241.7 1045.3,1232.5 1047.4,1232.1 1048.9,1242.4 1050.6,1222.5 1052.3,1272.8 1054.5,1221.4 1058.1,1198.3 1061.8,1228.3 1063.5,1222.5 1065.6,1227.8 1067.3,1243.2 1069.3,1238.1 1072.7,1206.4 1074.6,1220.3 1078.5,1189.3 1080.2,1203.2 1082.1,1158.6 1083.8,1202.1 1085.5,1221.4 1087.5,1246.5 1089.6,1236.4 1092.8,1185.4 1096.7,1185.0 1098.4,1195.3 1100.5,1195.7 1103.8,1153.9 1107.4,1123.7 1109.5,1154.2 1111.3,1164.4 1114.9,1104.5 1117.0,1092.5 1119.2,1112.4 1120.9,1116.2 1124.1,1154.2 1125.1,1130.6 1126.9,1077.0 1129.0,980.7 1131.1,948.5 1132.8,933.5 1135.0,925.4 1136.9,948.9 1138.6,912.1 1140.8,927.1 1142.3,947.9 1144.6,942.1 1146.6,925.0 1147.8,886.4 1151.9,883.8 1155.1,925.0 1157.5,925.4 1159.0,944.2 1160.1,987.1 1160.7,1016.6 1162.8,1018.1 1164.6,1049.2 1166.5,1019.2 1168.0,1028.8 1170.1,998.2 1171.8,1028.8 1174.0,1059.5 1175.7,1039.6 1177.2,1080.3 1181.0,1100.6 1182.8,1061.0 1184.7,1059.5 1186.8,1069.5 1188.3,1100.2 1190.0,1100.6 1192.2,1122.0 1193.7,1111.3 1195.4,1131.7 1197.5,1111.3 1199.7,1122.0 1201.2,1050.3 1202.9,1039.6 1205.0,1038.5 1206.7,1019.2 1208.5,988.1 1210.4,987.7 1212.1,967.4 1214.0,966.7 1216.2,957.1 1217.9,956.0 1219.0,905.7 1221.1,894.5 1225.4,893.9 1226.9,923.9 1229.0,923.9 1231.2,933.5 1232.5,984.9 1234.4,1003.1 1236.1,1003.8 1237.8,1033.8 1239.7,1034.2 1241.5,1073.8 1243.6,1033.1 1245.3,1053.5 1247.4,1032.5 1248.9,1063.5 1251.1,1072.3 1254.7,1031.0 1256.9,1040.6 1260.1,1071.7 1261.8,1041.3 1265.0,1051.3 1269.3,1051.3 1271.4,1040.6 1272.9,1082.4 1276.4,1133.2 1280.0,1081.8 1282.1,1102.3 1285.4,1081.8 1287.9,1092.0 1289.6,1092.0 1291.4,1072.3 1293.3,1071.7 1296.7,1092.0 1298.6,1081.8 1300.4,1102.3 1302.5,1092.0 1304.0,1051.3 1306.1,1040.6 1311.1,1040.6 1313.2,1071.7 1315.3,1061.4 1317.5,1041.7 1319.0,1040.6 1320.7,1021.3 1322.8,1010.2 1324.6,1009.6 1327.8,990.3 1329.7,989.9 1331.4,969.5 1333.6,984.9 1335.3,959.2 1337.4,974.2 1338.9,1009.6 1340.6,1005.9 1342.6,1020.9 1344.3,1016.6 1346.4,1029.9 1348.1,1051.3 1350.1,1082.4 1351.8,1089.5 1353.5,1084.5 1357.1,1115.6 1359.3,1121.0 1361.4,1156.7 1362.9,1157.8 1364.6,1187.8 1366.8,1198.9 1368.3,1168.9 1370.4,1167.9 1375.8,1198.9 1377.9,1199.6 1379.6,1188.9 1381.3,1209.2 1383.5,1198.9 1385.0,1158.5 1386.7,1178.2 1388.6,1168.5 1392.5,1229.6 1396.1,1168.5 1398.2,1188.2 1401.7,1168.5 1403.6,1178.2 1407.0,1128.5 1409.0,1129.5 1410.7,1100.6 1412.8,1112.4 1414.5,1164.4 1416.5,1126.3 1418.2,1146.7 1421.8,1077.0 1425.2,1121.0 1428.9,1124.2 1432.5,1076.0 1434.7,1086.7 1436.4,1056.7 1438.5,1077.0 1440.0,1117.7 1443.9,1077.0 1445.6,1076.0 1447.5,1056.7 1451.4,1077.0 1455.0,1077.0 1456.7,1066.8 1458.4,1097.4 1459.9,1099.1 1462.1,1109.2 1463.8,1100.2 1465.7,1141.3 1467.4,1142.4 1469.6,1103.8 1471.3,1124.2 1473.2,1124.6 1474.9,1117.7 1477.1,1097.4 1478.8,1098.0 1480.7,1130.6 1482.4,1141.3 1484.1,1162.3 1486.1,1163.8 1488.0,1134.4 1491.4,1164.4 1493.6,1154.6 1495.3,1174.5 1498.9,1134.4 1500.6,1144.5 1502.3,1124.2 1504.5,1143.9 1506.4,1134.4 1508.6,1133.8 1510.3,1114.5 1511.8,1072.8 1513.5,1032.1 1515.6,1031.0 1517.3,1041.7 1519.3,1032.1 1521.0,1001.0 1522.7,1031.0 1524.6,990.3 1526.3,991.4 1528.5,1012.8 1530.2,983.9 1533.8,985.6 1535.5,1007.4 1537.5,1001.0 1539.6,979.6 1541.3,1012.8 1543.0,1052.8 1546.7,1038.5 1548.4,996.1 1550.3,1048.1 1552.5,1038.5 1554.2,1069.5 1555.9,1059.9 1557.8,1059.9 1559.5,1089.9 1561.3,1100.2 1563.2,1093.8 1564.9,1106.0 1567.0,1100.2 1568.8,1112.4 1570.9,1095.2 1574.1,1122.3 1575.8,1105.2 1577.9,1138.2 1579.4,1075.6 1583.3,1025.3 1585.0,1019.5 1587.1,1023.1 1590.8,1009.2 1592.3,999.6 1594.4,978.2 1596.1,998.9 1598.3,987.8 1599.8,937.5 1601.5,918.2 1603.6,918.2 1605.3,938.1 1607.5,927.8 1609.0,978.8 1614.3,978.8 1616.5,998.9 1618.2,978.8 1620.3,998.9 1622.3,979.2 1624.0,968.5 1627.6,927.8 1629.3,948.2 1631.0,938.1 1632.8,908.1 1634.7,897.8 1636.4,897.4 1638.5,867.4 1640.7,887.1 1642.6,897.8 1644.3,918.2 1646.0,887.6 1647.5,897.8 1649.7,887.6 1651.2,949.2 1655.5,968.5 1656.7,978.8 1658.5,1009.2 1660.4,978.2 1662.1,1009.2 1664.0,1017.8 1665.7,1029.6 1667.9,1069.8 1673.2,1039.2 1675.4,1048.8 1679.0,1048.8 1680.7,1018.4 1682.5,1059.6 1684.6,1069.2 1686.1,1059.6 1687.8,1069.2 1690.0,1089.5 1691.9,1069.2 1693.6,1059.6 1695.3,1058.9 1697.2,1028.5 1699.4,1028.5 1701.1,1069.2 1703.2,1079.5 1706.9,1079.5 1708.6,1069.2 1710.3,1079.9 1711.8,1039.2 1713.9,1018.4 1715.7,1048.2 1717.6,1048.8 1719.7,1059.6 1722.9,1089.5 1725.1,1058.9 1726.8,1079.5 1728.9,1078.2 1730.4,1036.6 1732.1,1056.3 1734.3,1054.8 1735.4,1034.3 1737.5,1032.8 1739.6,1021.6 1741.4,1020.6 1743.3,1029.6 1745.0,1018.9 1746.7,1017.4 1748.6,1026.4 1750.8,1025.3 1752.5,1013.9 1754.2,1033.9 1756.1,1032.8 1757.9,1041.3 1759.6,1063.2 1761.5,1042.4 1765.3,1042.0 1767.1,1073.5 1769.0,1062.8 1770.7,1093.2 1772.8,1073.5 1775.0,1062.8 1776.5,1030.6 1779.9,1012.4 1781.8,1032.8 1783.6,1022.1 1785.3,992.1 1787.4,992.1 1789.6,1004.9 1791.1,1022.1 1792.8,1022.5 1794.7,1052.7 1796.4,1028.1 1798.1,1064.5 1800.3,1040.3 1801.8,1087.0 1803.9,1061.7 1805.6,1075.6 1807.1,1097.0 1809.3,1150.6 1812.9,1161.3 1814.6,1177.4 1816.8,1193.4 1818.3,1190.2 1820.4,1175.9 1822.1,1202.0 1823.8,1198.1 1826.0,1197.7 1827.9,1178.4 1829.6,1150.6 1831.3,1117.0 1833.5,1128.1 1835.0,1158.1 1838.6,1097.0 1840.7,1087.4 1842.5,1057.4 1844.2,1056.3 1846.1,1036.6 1847.8,1036.0 1849.5,1046.7 1851.7,1037.1 1853.6,1016.3 1855.3,1016.3 1857.0,1026.4 1859.0,1056.3 1860.7,1057.4 1862.4,1087.4 1864.5,1077.3 1868.2,1037.1 1869.9,1027.4 1873.5,1027.0 1875.7,1016.7 1877.4,996.8 1881.0,976.0 1884.7,996.4 1886.4,1016.7 1888.5,1007.1 1890.0,1006.0 1892.2,996.4 1893.9,996.4 1895.6,1016.1 1897.5,1016.7 1899.7,1026.4 1900.9,1087.4 1903.1,1067.1 1904.6,1097.0 1906.7,1097.0 1908.4,1076.7 1910.4,1076.7 1912.1,1107.8 1915.7,1076.7 1917.4,1107.3 1919.6,1117.4 1921.3,1107.8 1923.2,1107.3 1924.9,1114.2 1927.1,1144.8 1928.8,1133.9 1930.7,1061.7 1932.4,1089.5 1936.1,1055.9 1938.2,1074.6 1939.9,1073.5 1941.6,1061.7 1947.4,1088.0 1949.1,1088.5 1951.1,1097.0 1954.5,1136.7 1958.1,1136.7 1960.3,1147.4 1962.0,1167.7 1963.5,1177.4 1965.6,1198.8 1967.3,1195.6 1969.2,1219.2 1971.2,1220.2 1972.9,1250.2 1976.5,1199.5 1978.7,1197.7 1980.4,1189.2 1982.1,1149.5 1985.3,1089.6 1987.2,1085.3 1989.4,1111.0 1991.5,1105.6 1993.2,1059.6 1995.0,1074.6 1996.9,1069.2 1998.6,1011.4 2000.3,979.3 2002.2,940.7 2003.9,943.9 2006.1,927.8 2007.8,913.5 2009.9,938.6 2013.6,949.3 2015.3,958.9 2016.8,999.6 2018.9,1010.7 2020.7,960.0 2022.6,999.6 2024.3,959.5 2026.0,958.9 2027.9,999.6 2030.1,1000.0 2031.8,990.0 2033.5,1005.0 2035.4,1020.6 2037.1,1010.3 2038.9,969.6 2041.0,969.0 2042.9,949.3 2044.2,958.9 2046.1,919.3 2048.3,897.9 2050.4,919.3 2053.2,979.3 2055.4,979.9 2057.5,949.3 2059.2,975.0 2061.4,1000.7"/>
</g>
<text class="tk" transform="translate(222.8 1588.2) scale(1 1.02)" text-anchor="middle">0</text>
<text class="tk" transform="translate(590.2 1588.2) scale(1 1.02)" text-anchor="middle">200</text>
<text class="tk" transform="translate(957.7 1588.2) scale(1 1.02)" text-anchor="middle">400</text>
<text class="tk" transform="translate(1325.1 1588.2) scale(1 1.02)" text-anchor="middle">600</text>
<text class="tk" transform="translate(1692.6 1588.2) scale(1 1.02)" text-anchor="middle">800</text>
<text class="tk" transform="translate(2060.0 1588.2) scale(1 1.02)" text-anchor="middle">1000</text>
<text class="tk" transform="translate(200.8 78.8) scale(1 1.02)" text-anchor="end">-0.6</text>
<text class="tk" transform="translate(200.8 239.9) scale(1 1.02)" text-anchor="end">-0.8</text>
<text class="tk" transform="translate(200.8 401.0) scale(1 1.02)" text-anchor="end">-1</text>
<text class="tk" transform="translate(200.8 562.1) scale(1 1.02)" text-anchor="end">-1.2</text>
<text class="tk" transform="translate(200.8 723.2) scale(1 1.02)" text-anchor="end">-1.4</text>
<text class="tk" transform="translate(200.8 884.4) scale(1 1.02)" text-anchor="end">-1.6</text>
<text class="tk" transform="translate(200.8 1045.5) scale(1 1.02)" text-anchor="end">-1.8</text>
<text class="tk" transform="translate(200.8 1206.6) scale(1 1.02)" text-anchor="end">-2</text>
<text class="tk" transform="translate(200.8 1367.7) scale(1 1.02)" text-anchor="end">-2.2</text>
<text class="tk" transform="translate(200.8 1528.8) scale(1 1.02)" text-anchor="end">-2.4</text>
<text class="lb" transform="translate(1142.4 1668.9) scale(1 1.035)" text-anchor="middle">Data transmission rounds</text>
<text class="lb" transform="translate(70.3 779.3) rotate(-90) scale(1 1.035)" text-anchor="middle">Reward</text>
<rect x="1297.0" y="510.5" width="556.6" height="294.3" fill="#fff" stroke="#242424" stroke-width="2.9"/>
<line x1="1331.0" y1="554.85" x2="1500.3" y2="554.85" stroke="#000000" stroke-width="5.7" stroke-dasharray="17 17"/>
<text class="lg" transform="translate(1517.3 575.1) scale(1 1.035)">Ideal optimum</text>
<line x1="1331.0" y1="623.4" x2="1500.3" y2="623.4" stroke="#ff00ff" stroke-width="2.9"/>
<text class="lg" transform="translate(1517.3 643.7) scale(1 1.035)">SA-FRL</text>
<line x1="1331.0" y1="692.0" x2="1500.3" y2="692.0" stroke="#4dbeee" stroke-width="2.9"/>
<text class="lg" transform="translate(1517.3 712.3) scale(1 1.035)">SA-RL</text>
<line x1="1331.0" y1="760.5" x2="1500.3" y2="760.5" stroke="#77ac30" stroke-width="2.9"/>
<text class="lg" transform="translate(1517.3 780.8) scale(1 1.035)">Random</text>
</svg>
</body></html>
